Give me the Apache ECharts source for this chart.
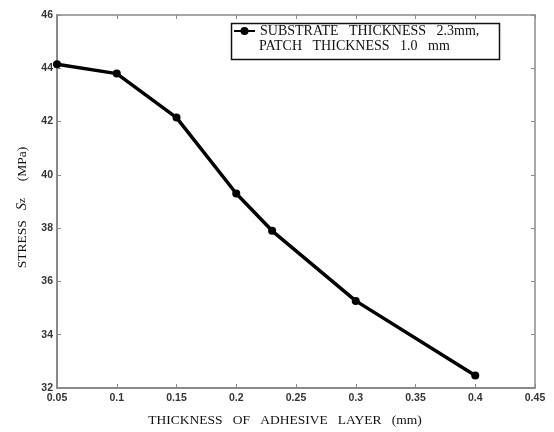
<!DOCTYPE html>
<html>
<head>
<meta charset="utf-8">
<script src="https://cdn.jsdelivr.net/npm/echarts@6/dist/echarts.min.js"></script>
<style>html,body{margin:0;padding:0;background:#fff}#c{width:554px;height:432px}</style>
</head>
<body>
<div id="c"></div>
<script>
const thickness = [0.05, 0.1, 0.15, 0.2, 0.23, 0.3, 0.4];
const stress = [44.15, 43.8, 42.15, 39.3, 37.9, 35.27, 32.47];
const seriesName = 'SUBSTRATE   THICKNESS   2.3mm,';
const legendLine2 = 'PATCH   THICKNESS   1.0   mm';
const xTitle = 'THICKNESS   OF   ADHESIVE   LAYER   (mm)';

const chart = echarts.init(document.getElementById('c'), null, {renderer: 'canvas'});
const gridL = 57, gridR = 19, gridT = 15, gridB = 42;
const tickLabel = {color: '#333', fontFamily: 'Liberation Sans', fontWeight: 'bold', fontSize: 10.5};
const axisGray = '#8a8a8a';
chart.setOption({
  animation: false,
  backgroundColor: '#fff',
  grid: {left: gridL, right: gridR, top: gridT, bottom: gridB},
  legend: {
    left: 233, top: 24, padding: 0, itemWidth: 21, itemHeight: 10, itemGap: 5,
    textStyle: {fontFamily: 'Liberation Serif', fontSize: 14, color: '#111'},
    data: [seriesName], selectedMode: false
  },
  graphic: [
    {type: 'rect', left: 229, top: 21, shape: {width: 268, height: 36}, style: {fill: 'none', stroke: '#111', lineWidth: 1.5}, z: 1},
    {type: 'text', left: 259, top: 39, style: {text: legendLine2, font: '14px "Liberation Serif"', fill: '#111'}, z: 2}
  ],
  xAxis: [{
    type: 'value', min: 0.05, max: 0.45, interval: 0.05,
    name: xTitle, nameLocation: 'middle', nameGap: 25,
    nameTextStyle: {fontFamily: 'Liberation Serif', fontSize: 13.5, color: '#111', padding: [0, 22, 0, 0]},
    axisLine: {show: true, lineStyle: {color: axisGray, width: 2}},
    axisTick: {show: true, inside: true, length: 4, lineStyle: {color: axisGray}},
    axisLabel: Object.assign({margin: 5, formatter: v => String(+v.toFixed(2))}, tickLabel),
    splitLine: {show: false}
  }, {
    type: 'value', position: 'top', min: 0.05, max: 0.45, interval: 0.05,
    axisLine: {show: true, lineStyle: {color: axisGray, width: 1.5}},
    axisTick: {show: true, inside: true, length: 4, lineStyle: {color: axisGray}},
    axisLabel: {show: false}, splitLine: {show: false}
  }],
  yAxis: [{
    type: 'value', min: 32, max: 46, interval: 2,
    name: 'STRESS   {i|S}{s|z}     (MPa)', nameLocation: 'middle', nameGap: 28, nameRotate: 90,
    nameTextStyle: {fontFamily: 'Liberation Serif', fontSize: 13.5, color: '#111', padding: [0, 12, 0, 0],
      rich: {i: {fontFamily: 'Liberation Serif', fontStyle: 'italic', fontSize: 14, color: '#111'},
             s: {fontFamily: 'Liberation Serif', fontSize: 11, color: '#111'}}},
    axisLine: {show: true, lineStyle: {color: axisGray, width: 2}},
    axisTick: {show: true, inside: true, length: 4, lineStyle: {color: axisGray}},
    axisLabel: Object.assign({margin: 4}, tickLabel),
    splitLine: {show: false}
  }, {
    type: 'value', position: 'right', min: 32, max: 46, interval: 2,
    axisLine: {show: true, lineStyle: {color: axisGray, width: 1.5}},
    axisTick: {show: true, inside: true, length: 4, lineStyle: {color: axisGray}},
    axisLabel: {show: false}, splitLine: {show: false}
  }],
  series: [{
    name: seriesName, type: 'line',
    data: thickness.map((t, i) => [t, stress[i]]),
    symbol: 'circle', symbolSize: 8, showAllSymbol: true,
    lineStyle: {color: '#000', width: 3.5},
    itemStyle: {color: '#000'}
  }]
});
</script>
</body>
</html>
